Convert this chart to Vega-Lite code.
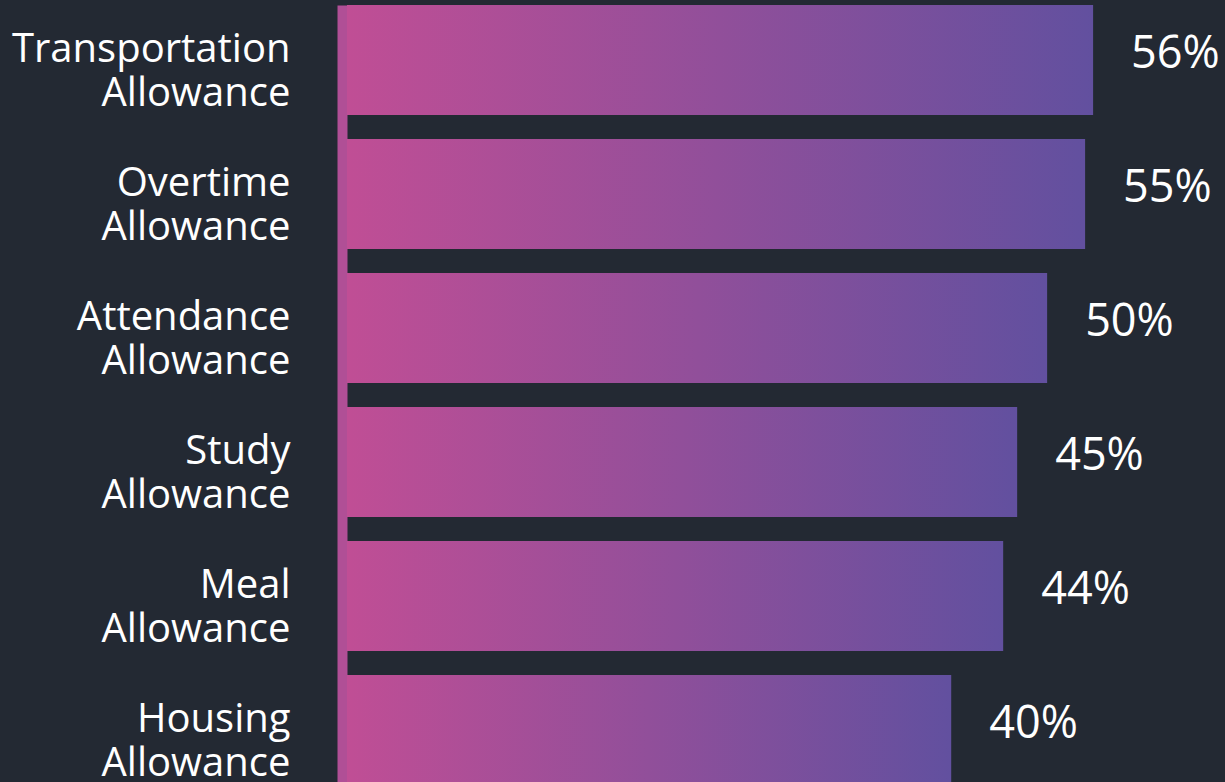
{
  "$schema": "https://vega.github.io/schema/vega-lite/v6.json",
  "autosize": {"type": "none"},
  "width": 878,
  "height": 780,
  "padding": {"left": 347, "top": 5, "right": 0, "bottom": 0},
  "background": "#232933",
  "config": {"view": {"stroke": null}, "font": "Open Sans"},
  "data": {
    "values": [
      {"category": "Transportation Allowance", "bar": 56.0, "label": "56%"},
      {"category": "Overtime Allowance", "bar": 55.4, "label": "55%"},
      {"category": "Attendance Allowance", "bar": 52.55, "label": "50%"},
      {"category": "Study Allowance", "bar": 50.3, "label": "45%"},
      {"category": "Meal Allowance", "bar": 49.25, "label": "44%"},
      {"category": "Housing Allowance", "bar": 45.35, "label": "40%"}
    ]
  },
  "encoding": {
    "y": {
      "field": "category",
      "type": "nominal",
      "sort": null,
      "scale": {"paddingInner": 0.179, "paddingOuter": 0},
      "axis": {
        "title": null,
        "ticks": false,
        "tickSize": 0,
        "offset": 5,
        "domainColor": "#b04f96",
        "domainWidth": 10,
        "labelPadding": 52,
        "labelOffset": -10,
        "labelFontSize": 40,
        "labelColor": "#ffffff",
        "labelFont": "Open Sans",
        "labelLineHeight": 44,
        "labelLimit": 400,
        "labelExpr": "split(datum.label, ' ')"
      }
    },
    "x": {
      "field": "bar",
      "type": "quantitative",
      "scale": {"domain": [0, 65.9], "nice": false},
      "axis": null
    }
  },
  "layer": [
    {
      "mark": {
        "type": "bar",
        "fill": {
          "gradient": "linear",
          "x1": 0, "x2": 1, "y1": 0, "y2": 0,
          "stops": [
            {"offset": 0, "color": "#c04e95"},
            {"offset": 1, "color": "#62509f"}
          ]
        }
      }
    },
    {
      "mark": {
        "type": "text",
        "align": "left",
        "baseline": "middle",
        "dx": 38,
        "dy": -6,
        "fontSize": 45,
        "font": "Open Sans",
        "color": "#ffffff"
      },
      "encoding": {"text": {"field": "label"}}
    }
  ]
}
